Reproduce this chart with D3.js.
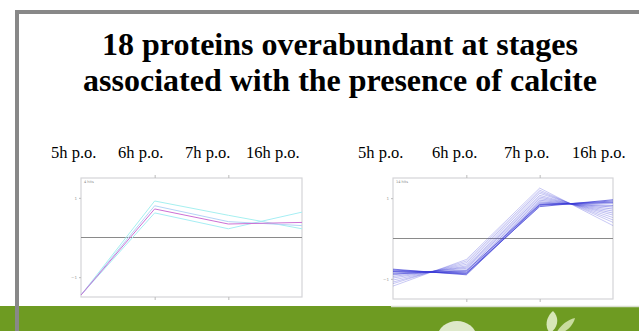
<!DOCTYPE html>
<html>
<head>
<meta charset="utf-8">
<script src="https://cdn.jsdelivr.net/npm/d3@7"></script>
<style>
  html, body { margin: 0; padding: 0; background: #fff; }
  svg { display: block; }
</style>
</head>
<body>
<svg id="slide" width="639" height="331"></svg>
<script>
// Sampling stages (hours post ovulation)
const stages = ["5h p.o.", "6h p.o.", "7h p.o.", "16h p.o."];
const titleLines = ["18 proteins overabundant at stages", "associated with the presence of calcite"];

// Cluster 1: normalized abundance profiles (4 proteins)
const cluster1Label = "4 hits";
const cluster1 = [
  { values: [-1.45, 0.92, 0.56, 0.22], color: "#a6f0f0" },
  { values: [-1.45, 0.62, 0.22, 0.64], color: "#a6eef4" },
  { values: [-1.45, 0.80, 0.40, 0.30], color: "#b4d4f6" },
  { values: [-1.45, 0.72, 0.34, 0.38], color: "#cc70d4" }
];

// Cluster 2: normalized abundance profiles (14 proteins)
const cluster2Label = "14 hits";
const cluster2 = [
  [-1.18, -0.52, 1.25, 0.32],
  [-1.12, -0.56, 1.20, 0.40],
  [-1.08, -0.60, 1.16, 0.46],
  [-1.03, -0.64, 1.12, 0.52],
  [-0.98, -0.68, 1.07, 0.58],
  [-0.94, -0.71, 1.03, 0.63],
  [-0.90, -0.74, 0.99, 0.68],
  [-0.86, -0.78, 0.95, 0.73],
  [-0.83, -0.82, 0.91, 0.78],
  [-0.80, -0.85, 0.88, 0.82],
  [-0.78, -0.88, 0.85, 0.88],
  [-0.76, -0.90, 0.82, 0.93],
  [-0.82, -0.86, 0.79, 0.96],
  [-0.88, -0.80, 0.84, 0.90]
];
const cluster2Opacity = [0.28, 0.28, 0.3, 0.3, 0.32, 0.35, 0.35, 0.4, 0.45, 0.5, 0.6, 0.65, 0.7, 0.6];

const yTicks = [-1, 1];
const yDomain = [-1.5, 1.5];

const svg = d3.select("#slide");
const serif = "'Liberation Serif', 'Times New Roman', serif";

// Slide frame
svg.append("rect").attr("x", 17).attr("y", 12).attr("width", 640).attr("height", 340)
  .attr("fill", "none").attr("stroke", "#888").attr("stroke-width", 4);

// Green footer band
svg.append("rect").attr("x", 0).attr("y", 306).attr("width", 639).attr("height", 25)
  .attr("fill", "#6e9b22");
svg.append("line").attr("x1", 391).attr("x2", 639).attr("y1", 306.5).attr("y2", 306.5)
  .attr("stroke", "#d9dfd0").attr("stroke-width", 1.5);
// frame segment over the band
svg.append("rect").attr("x", 15).attr("y", 306).attr("width", 4).attr("height", 25).attr("fill", "#888");

// Footer decoration: pale leaves
const deco = svg.append("g");
deco.append("ellipse").attr("cx", 457).attr("cy", 336).attr("rx", 19).attr("ry", 15)
  .attr("fill", "#e9f1dc").attr("opacity", 0.9);
deco.append("path").attr("d", "M553,311 C545,318 545,328 550,333 C558,328 560,318 553,311 Z")
  .attr("fill", "#d7e6b8");
deco.append("path").attr("d", "M575,318 C566,320 558,328 556,334 C566,333 573,326 575,318 Z")
  .attr("fill", "#c9dc9f");

// Title
const title = svg.append("text").attr("text-anchor", "middle")
  .attr("font-family", serif).attr("font-weight", "bold").attr("font-size", 32).attr("fill", "#000");
title.selectAll("tspan").data(titleLines).join("tspan")
  .attr("x", 340).attr("y", (d, i) => 55 + i * 36).text(d => d);

// Stage labels above each panel
function stageLabels(xs) {
  svg.append("g").selectAll("text").data(stages).join("text")
    .attr("x", (d, i) => xs[i]).attr("y", 158)
    .attr("font-family", serif).attr("font-size", 16.5).attr("fill", "#000")
    .text(d => d);
}
stageLabels([51, 118, 185, 246]);
stageLabels([358, 432, 504, 572]);

// Profile panel
function panel(opts) {
  const { x0, x1, y0, y1, label, series } = opts;
  const x = d3.scalePoint().domain(stages).range([x0, x1]);
  const y = d3.scaleLinear().domain(yDomain).range([y1, y0]);
  const g = svg.append("g");

  g.append("rect").attr("x", x0).attr("y", y0).attr("width", x1 - x0).attr("height", y1 - y0)
    .attr("fill", "#fff").attr("stroke", "#d4d4d8").attr("stroke-width", 1.2);

  // inner stage ticks on top and bottom edges
  const inner = stages.slice(1, -1);
  g.append("g").attr("transform", `translate(0,${y0})`)
    .call(d3.axisTop(x).tickValues(inner).tickSize(3).tickFormat(""))
    .call(a => a.select(".domain").remove())
    .call(a => a.selectAll("line").attr("stroke", "#bbb"));
  g.append("g").attr("transform", `translate(0,${y1})`)
    .call(d3.axisBottom(x).tickValues(inner).tickSize(3).tickFormat(""))
    .call(a => a.select(".domain").remove())
    .call(a => a.selectAll("line").attr("stroke", "#bbb"));

  // y ticks
  g.append("g").attr("transform", `translate(${x0},0)`)
    .call(d3.axisLeft(y).tickValues(yTicks).tickSize(2).tickPadding(2).tickFormat(d3.format("d")))
    .call(a => a.select(".domain").remove())
    .call(a => a.selectAll("line").attr("stroke", "#bbb"))
    .call(a => a.selectAll("text").attr("font-size", 4).attr("fill", "#999").attr("font-family", "DejaVu Sans"));

  // zero line
  g.append("line").attr("x1", x0).attr("x2", x1).attr("y1", y(0)).attr("y2", y(0))
    .attr("stroke", "#8a8a8a").attr("stroke-width", 1);

  g.append("text").attr("x", x0 + 3).attr("y", y0 + 5)
    .attr("font-size", 3.5).attr("fill", "#888").attr("font-family", "DejaVu Sans").text(label);

  const line = d3.line().x((d, i) => x(stages[i])).y(d => y(d));
  g.append("g").selectAll("path").data(series).join("path")
    .attr("d", d => line(d.values))
    .attr("fill", "none")
    .attr("stroke", d => d.color)
    .attr("stroke-opacity", d => d.opacity)
    .attr("stroke-width", 1);
}

panel({
  x0: 81, x1: 302, y0: 178, y1: 297, label: cluster1Label,
  series: cluster1.map(s => ({ values: s.values, color: s.color, opacity: 1 }))
});
panel({
  x0: 393, x1: 613, y0: 178, y1: 299, label: cluster2Label,
  series: cluster2.map((v, i) => ({ values: v, color: "#3a3ad6", opacity: cluster2Opacity[i] }))
});
</script>
</body>
</html>
